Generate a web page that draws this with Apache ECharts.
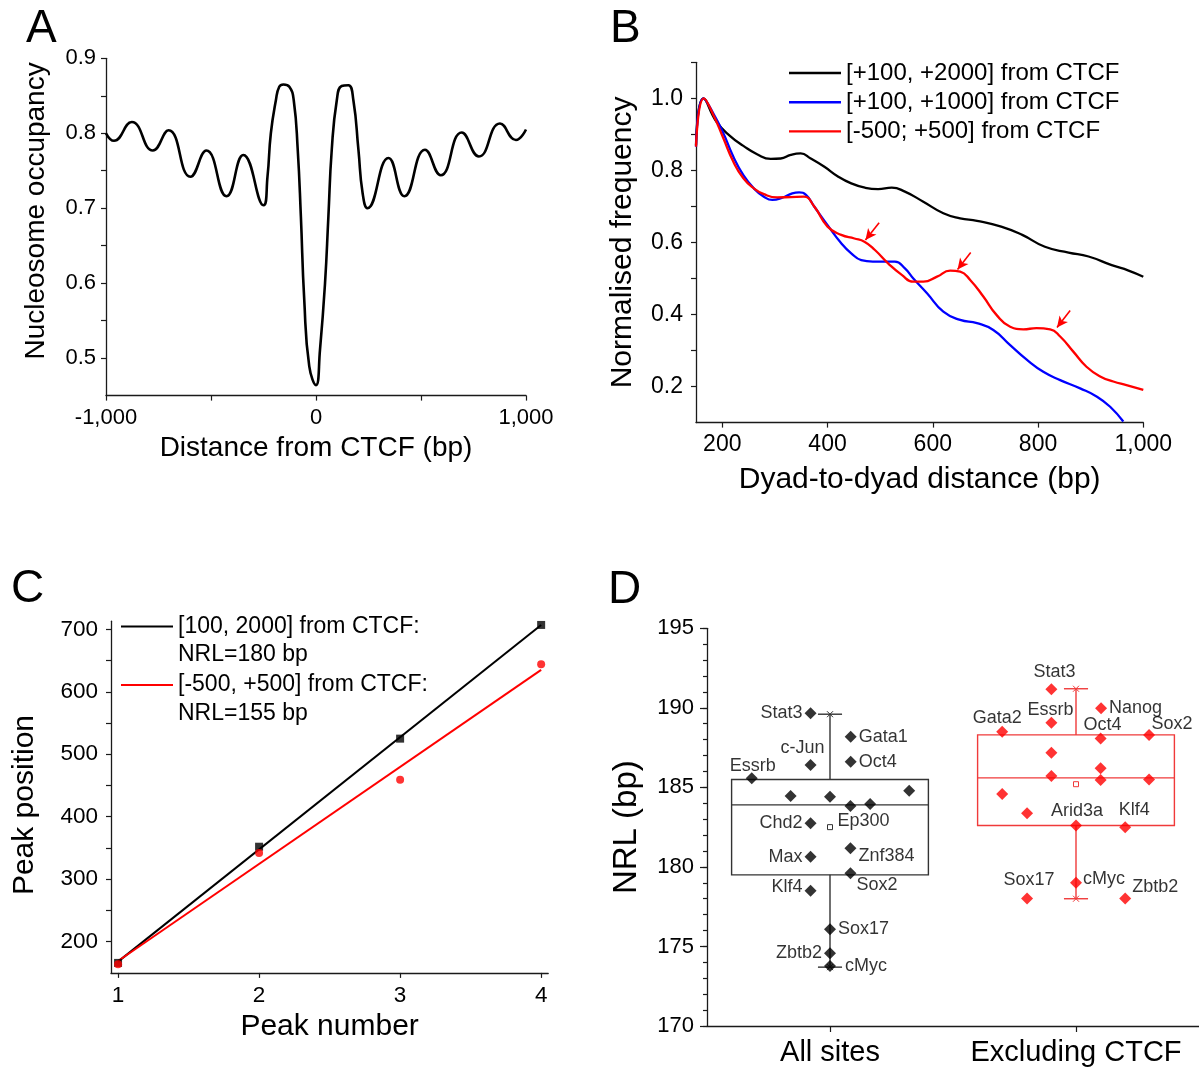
<!DOCTYPE html>
<html>
<head>
<meta charset="utf-8">
<title>Nucleosome repeat length around CTCF</title>
<script src="https://cdn.jsdelivr.net/npm/echarts@6.0.0/dist/echarts.min.js"></script>
<style>
  html, body { margin: 0; padding: 0; background: #fff; }
  #chart { width: 1199px; height: 1070px; }
</style>
</head>
<body>
<div id="chart"></div>
<script>
// ---- panel A: average nucleosome occupancy around CTCF sites
const occX = [-1000, -962, -877, -777, -702, -598, -522, -426, -346, -250, -231, -215, -191, -175, -155, -127, -106, -87, -72, -56, -32,
  0, 19, 43, 59, 75, 99, 122, 154, 178, 202, 222, 245, 345, 421, 519, 594, 694, 776, 876, 952, 1000];
const occY = [0.800, 0.790, 0.815, 0.777, 0.804, 0.742, 0.777, 0.716, 0.771, 0.704, 0.742, 0.800, 0.844, 0.862, 0.865, 0.862, 0.844, 0.778, 0.689, 0.578, 0.489,
  0.464, 0.511, 0.600, 0.689, 0.778, 0.844, 0.863, 0.864, 0.844, 0.778, 0.720, 0.700, 0.767, 0.716, 0.778, 0.744, 0.801, 0.769, 0.813, 0.791, 0.805];
const occTickX = [-1000, -500, 0, 500, 1000];
const occLabelX = [-1000, 0, 1000];
const occTickY = [0.5, 0.55, 0.6, 0.65, 0.7, 0.75, 0.8, 0.85, 0.9];
const occLabelY = [0.5, 0.6, 0.7, 0.8, 0.9];

// ---- panel B: dyad-to-dyad distance distributions
const freqNames = ['[+100, +2000] from CTCF', '[+100, +1000] from CTCF', '[-500; +500] from CTCF'];
const farX = [150, 164, 189, 215, 240, 266, 292, 311, 330, 349, 368, 394, 419, 445, 471, 496, 522, 547, 582, 620, 652, 684, 730, 770, 813, 858, 896, 940, 972, 1000];
const farY = [0.87, 1.0, 0.935, 0.895, 0.868, 0.845, 0.832, 0.833, 0.843, 0.847, 0.833, 0.810, 0.784, 0.764, 0.752, 0.748, 0.752, 0.741, 0.713, 0.681, 0.667, 0.660, 0.644, 0.621, 0.588, 0.572, 0.561, 0.537, 0.522, 0.505];
const midX = [150, 164, 183, 202, 221, 240, 260, 279, 295, 314, 333, 346, 359, 375, 400, 426, 445, 464, 486, 509, 528, 547, 563, 589, 620, 652, 684, 715, 747, 779, 810, 842, 880, 912, 937, 962];
const midY = [0.866, 1.0, 0.958, 0.903, 0.838, 0.787, 0.750, 0.727, 0.718, 0.724, 0.736, 0.739, 0.732, 0.699, 0.648, 0.598, 0.570, 0.551, 0.547, 0.547, 0.547, 0.528, 0.500, 0.459, 0.408, 0.385, 0.376, 0.357, 0.315, 0.274, 0.241, 0.218, 0.195, 0.172, 0.144, 0.103];
const nearX = [150, 165, 183, 202, 221, 240, 260, 279, 304, 330, 355, 375, 400, 426, 451, 470, 490, 515, 541, 563, 582, 608, 633, 652, 671, 696, 721, 747, 772, 797, 823, 842, 867, 892, 918, 943, 968, 1000];
const nearY = [0.866, 1.0, 0.954, 0.889, 0.824, 0.778, 0.750, 0.734, 0.725, 0.726, 0.727, 0.699, 0.644, 0.621, 0.611, 0.602, 0.579, 0.542, 0.510, 0.491, 0.491, 0.505, 0.522, 0.519, 0.496, 0.450, 0.399, 0.366, 0.359, 0.362, 0.359, 0.339, 0.297, 0.255, 0.228, 0.214, 0.204, 0.191];
// arrows pointing at the extra peaks of the red curve
const arrowTail = [[498, 0.655], [672, 0.572], [861, 0.411]];
const arrowHead = [[472, 0.607], [647, 0.525], [836, 0.364]];
const freqTickX = [200, 400, 600, 800, 1000];
const freqTickY = [0.2, 0.3, 0.4, 0.5, 0.6, 0.7, 0.8, 0.9, 1.0, 1.1];
const freqLabelY = [0.2, 0.4, 0.6, 0.8, 1.0];

// ---- panel C: peak positions vs peak number
const peakNum = [1, 2, 3, 4];
const peakFar = [166, 352, 525, 707];
const peakNear = [164, 342, 459, 644];
const fitFarEnds = [168, 707];
const fitNearEnds = [169, 635];
const fitNames = ['[100, 2000] from CTCF:', '[-500, +500] from CTCF:'];
const fitNotes = ['NRL=180 bp', 'NRL=155 bp'];
const peakTickY = [200, 250, 300, 350, 400, 450, 500, 550, 600, 650, 700];
const peakLabelY = [200, 300, 400, 500, 600, 700];

// ---- panel D: NRL per transcription factor
const groupNames = ['All sites', 'Excluding CTCF'];
const allX = [0.921, 1.084, 0.921, 1.084, 0.682, 0.840, 1.000, 1.083, 1.163, 1.322, 0.921, 0.921, 1.083, 1.083, 0.921, 1.000, 1.000, 1.000];
const allY = [189.66, 188.19, 186.41, 186.61, 185.57, 184.46, 184.41, 183.83, 183.95, 184.79, 182.74, 180.64, 181.17, 179.60, 178.50, 176.08, 174.57, 173.77];
const allNames = ['Stat3', 'Gata1', 'c-Jun', 'Oct4', 'Essrb', '', '', 'Ep300', '', '', 'Chd2', 'Max', 'Znf384', 'Sox2', 'Klf4', 'Sox17', 'Zbtb2', 'cMyc'];
const exclX = [1.900, 1.900, 2.102, 1.700, 2.100, 2.297, 1.900, 2.100, 1.900, 2.100, 2.297, 1.700, 1.801, 2.000, 2.200, 2.000, 1.801, 2.200];
const exclY = [191.17, 189.07, 189.97, 188.50, 188.08, 188.29, 187.18, 186.20, 185.71, 185.46, 185.50, 184.58, 183.37, 182.61, 182.49, 179.00, 178.02, 178.02];
const exclNames = ['Stat3', 'Essrb', 'Nanog', 'Gata2', 'Oct4', 'Sox2', '', '', '', '', '', '', '', 'Arid3a', 'Klf4', 'cMyc', 'Sox17', 'Zbtb2'];
const boxPos = [1, 2];
const boxMin = [173.7, 178.0];
const boxQ1 = [179.5, 182.6];
const boxMed = [183.9, 185.6];
const boxQ3 = [185.5, 188.3];
const boxMax = [189.6, 191.2];
const boxMean = [182.5, 185.2];
const nrlTickMajor = [170, 175, 180, 185, 190, 195];

// ---- label placement for panel D (style only): [position, dx, dy, distance]
const allLabelPos = {
  'Stat3': ['left', 0, 0, 2], 'Gata1': ['right', 0, 0, 2], 'c-Jun': ['top', -8, 0, 2], 'Oct4': ['right', 0, 0, 2],
  'Essrb': ['top', 1, 5, 2], 'Ep300': ['bottom', 13, -2, 2], 'Chd2': ['left', 0, 0, 2], 'Max': ['left', 0, 0, 2],
  'Znf384': ['right', 0, 8, 2], 'Sox2': ['right', -2, 12, 2], 'Klf4': ['left', 0, -4, 2], 'Sox17': ['right', 0, 0, 2],
  'Zbtb2': ['left', 0, 0, 2], 'cMyc': ['right', 0, 0, 9]
};
const exclLabelPos = {
  'Stat3': ['top', 3, 0, 2], 'Essrb': ['top', -1, 4, 2], 'Nanog': ['right', 0, 0, 2], 'Gata2': ['top', -5, 3, 2],
  'Oct4': ['top', 2, 4, 2], 'Sox2': ['top', 23, 6, 2], 'Arid3a': ['top', 1, 3, 2], 'Klf4': ['top', 9, 0, 2],
  'cMyc': ['right', 0, -4, 1], 'Sox17': ['top', 2, -1, 2], 'Zbtb2': ['right', 0, -11, 1]
};

const FONT = 'Liberation Sans, Arial, Helvetica, sans-serif';
const INK = '#1a1a1a';
const comma = v => Number(v).toLocaleString('en-US');
const pairs = (xs, ys) => xs.map((x, i) => [x, ys[i]]);

// common axis look, Origin-like: outward ticks, no grid lines
function axis(opts) {
  const o = Object.assign({
    type: 'value',
    axisLine: { show: true, onZero: false, lineStyle: { color: INK, width: 1.3 } },
    splitLine: { show: false },
    nameLocation: 'middle',
    nameTextStyle: { color: '#000', fontFamily: FONT, fontSize: 28 }
  }, opts);
  o.axisTick = Object.assign({ show: true, length: 5, lineStyle: { color: INK, width: 1.2 } }, opts.axisTick || {});
  o.axisLabel = Object.assign({ color: '#000', fontFamily: FONT, fontSize: 22 }, opts.axisLabel || {});
  return o;
}

function pointLabel(name, table) {
  const p = table[name];
  if (!name || !p) return { show: false };
  return {
    show: true, formatter: '{b}', position: p[0], offset: [p[1], p[2]], distance: p[3],
    color: '#000', fontFamily: FONT, fontSize: 18
  };
}

function renderBox(params, api) {
  const x = api.value(0);
  const color = params.dataIndex === 0 ? '#333333' : '#f03a3a';
  const half = 0.4, cap = 0.049;
  const q1L = api.coord([x - half, api.value(2)]);
  const q3R = api.coord([x + half, api.value(4)]);
  const medL = api.coord([x - half, api.value(3)]);
  const medR = api.coord([x + half, api.value(3)]);
  const top = api.coord([x, api.value(5)]);
  const bot = api.coord([x, api.value(1)]);
  const mean = api.coord([x, api.value(6)]);
  const capL = api.coord([x - cap, api.value(5)])[0];
  const capR = api.coord([x + cap, api.value(5)])[0];
  const st = { stroke: color, lineWidth: 1.4, fill: 'none' };
  const line = (x1, y1, x2, y2, w) => ({ type: 'line', shape: { x1, y1, x2, y2 }, style: Object.assign({}, st, w ? { lineWidth: w } : {}) });
  const cross = p => [line(p[0] - 3, p[1] - 3, p[0] + 3, p[1] + 3, 1), line(p[0] - 3, p[1] + 3, p[0] + 3, p[1] - 3, 1)];
  return {
    type: 'group',
    children: [
      { type: 'rect', shape: { x: q1L[0], y: q3R[1], width: q3R[0] - q1L[0], height: q1L[1] - q3R[1] }, style: st },
      line(medL[0], medL[1], medR[0], medR[1]),
      line(top[0], top[1], top[0], q3R[1]),
      line(bot[0], bot[1], bot[0], q1L[1]),
      line(capL, top[1], capR, top[1]),
      line(capL, bot[1], capR, bot[1]),
      ...cross(top), ...cross(bot),
      { type: 'rect', shape: { x: mean[0] - 2.5, y: mean[1] - 2.5, width: 5, height: 5 }, style: { stroke: color, lineWidth: 1, fill: '#fff' } }
    ]
  };
}

const chart = echarts.init(document.getElementById('chart'));
const option = {
  backgroundColor: '#fff',
  animation: false,
  textStyle: { fontFamily: FONT },
  title: [
    { text: 'A', left: 26, top: 6 },
    { text: 'B', left: 610, top: 6 },
    { text: 'C', left: 11, top: 566 },
    { text: 'D', left: 608, top: 567 }
  ].map(t => Object.assign(t, { padding: 0, textStyle: { fontFamily: FONT, fontSize: 46, fontWeight: 'normal', color: '#000' } })),
  legend: [
    {
      data: freqNames, orient: 'vertical', left: 789, top: 60.5, padding: 0,
      icon: 'rect', itemWidth: 52, itemHeight: 2.4, itemGap: 4.2, selectedMode: false,
      textStyle: { fontFamily: FONT, fontSize: 24, lineHeight: 25, color: '#000' }
    },
    {
      data: [fitNames[0]], left: 121, top: 584.5, padding: 0,
      icon: 'rect', itemWidth: 52, itemHeight: 2.2, selectedMode: false,
      // leading blank line keeps the first text line level with the icon
      formatter: n => '\n' + n + '\n' + fitNotes[0],
      textStyle: { fontFamily: FONT, fontSize: 23, lineHeight: 28, color: '#000' }
    },
    {
      data: [fitNames[1]], left: 121, top: 641.5, padding: 0,
      icon: 'rect', itemWidth: 52, itemHeight: 2.2, selectedMode: false,
      formatter: n => '\n' + n + '\n' + fitNotes[1],
      textStyle: { fontFamily: FONT, fontSize: 23, lineHeight: 29, color: '#000' }
    }
  ],
  grid: [
    { left: 106, top: 58.3, width: 420, height: 337.3 },
    { left: 696, top: 62.3, width: 447.3, height: 360.3 },
    { left: 111, top: 621.2, width: 437.2, height: 351.7 },
    { left: 707, top: 628.3, width: 492, height: 397.7 }
  ],
  xAxis: [
    axis({
      gridIndex: 0, min: -1000, max: 1000,
      axisTick: { customValues: occTickX },
      axisLabel: { customValues: occLabelX, formatter: comma, margin: 11 },
      name: 'Distance from CTCF (bp)', nameGap: 39
    }),
    axis({
      gridIndex: 1, min: 150, max: 1000,
      axisTick: { customValues: freqTickX },
      axisLabel: { customValues: freqTickX, formatter: comma, margin: 11, fontSize: 23 },
      name: 'Dyad-to-dyad distance (bp)', nameGap: 42, nameTextStyle: { color: '#000', fontFamily: FONT, fontSize: 30 }
    }),
    axis({
      gridIndex: 2, min: 0.95, max: 4.05,
      axisTick: { customValues: peakNum },
      axisLabel: { customValues: peakNum, margin: 11, fontSize: 22.5 },
      name: 'Peak number', nameGap: 39, nameTextStyle: { color: '#000', fontFamily: FONT, fontSize: 30 }
    }),
    axis({
      gridIndex: 3, min: 0.5, max: 2.5,
      axisTick: { customValues: boxPos, length: 6 },
      axisLabel: { customValues: boxPos, formatter: v => groupNames[Math.round(v) - 1], margin: 12, fontSize: 29 }
    })
  ],
  yAxis: [
    axis({
      gridIndex: 0, min: 0.45, max: 0.9,
      axisTick: { customValues: occTickY },
      axisLabel: { customValues: occLabelY, formatter: v => v.toFixed(1), margin: 10 },
      name: 'Nucleosome occupancy', nameGap: 56,
      nameTextStyle: { color: '#000', fontFamily: FONT, fontSize: 28, padding: [0, 0, 0, 32] }
    }),
    axis({
      gridIndex: 1, min: 0.1, max: 1.1,
      axisTick: { customValues: freqTickY },
      axisLabel: { customValues: freqLabelY, formatter: v => v.toFixed(1), margin: 13, fontSize: 23 },
      name: 'Normalised frequency', nameGap: 58, nameTextStyle: { color: '#000', fontFamily: FONT, fontSize: 30 }
    }),
    axis({
      gridIndex: 2, min: 150, max: 713,
      axisTick: { customValues: peakTickY },
      axisLabel: { customValues: peakLabelY, margin: 13, fontSize: 22.5 },
      name: 'Peak position', nameGap: 71,
      nameTextStyle: { color: '#000', fontFamily: FONT, fontSize: 30, padding: [0, 16, 0, 0] }
    }),
    axis({
      gridIndex: 3, min: 170, max: 195,
      axisTick: { customValues: nrlTickMajor, length: 7 },
      axisLabel: { customValues: nrlTickMajor, margin: 13 },
      name: 'NRL (bp)', nameGap: 64, nameTextStyle: { color: '#000', fontFamily: FONT, fontSize: 33 }
    }),
    // minor ticks of panel D, one per bp
    axis({
      gridIndex: 3, min: 170, max: 195, interval: 1, position: 'left',
      axisLine: { show: false, onZero: false },
      axisTick: { length: 4 },
      axisLabel: { show: false }
    })
  ],
  series: [
    {
      type: 'line', name: 'occupancy', xAxisIndex: 0, yAxisIndex: 0,
      data: pairs(occX, occY), showSymbol: false, symbol: 'none',
      smooth: 0.5,
      lineStyle: { color: '#000', width: 2.6 }
    },
    ...[[farX, farY, '#000000'], [midX, midY, '#0000ff'], [nearX, nearY, '#ff0000']].map((c, i) => ({
      type: 'line', name: freqNames[i], xAxisIndex: 1, yAxisIndex: 1,
      data: pairs(c[0], c[1]), symbol: 'none', showSymbol: false,
      smooth: 0.5, z: 3 + (i === 1 ? 0 : i),
      color: c[2], lineStyle: { color: c[2], width: 2.3 },
      markLine: i === 2 ? {
        silent: true, symbol: ['none', 'arrow'], symbolSize: [8, 11],
        label: { show: false },
        lineStyle: { color: '#ff0000', width: 1.6, type: 'solid' },
        data: arrowTail.map((t, k) => [{ coord: t }, { coord: arrowHead[k] }])
      } : undefined
    })),
    {
      type: 'line', name: fitNames[0], xAxisIndex: 2, yAxisIndex: 2,
      data: [[peakNum[0], fitFarEnds[0]], [peakNum[3], fitFarEnds[1]]],
      symbol: 'none', color: '#000', lineStyle: { color: '#000', width: 2 }
    },
    {
      type: 'line', name: fitNames[1], xAxisIndex: 2, yAxisIndex: 2,
      data: [[peakNum[0], fitNearEnds[0]], [peakNum[3], fitNearEnds[1]]],
      symbol: 'none', color: '#ff0000', lineStyle: { color: '#ff0000', width: 2 }
    },
    {
      type: 'scatter', name: 'peaks far', xAxisIndex: 2, yAxisIndex: 2,
      data: pairs(peakNum, peakFar), symbol: 'rect', symbolSize: 8, itemStyle: { color: '#000' }, z: 4
    },
    {
      type: 'scatter', name: 'peaks near', xAxisIndex: 2, yAxisIndex: 2,
      data: pairs(peakNum, peakNear), symbol: 'circle', symbolSize: 8, itemStyle: { color: '#ff0000' }, z: 4
    },
    {
      type: 'custom', name: 'NRL boxes', xAxisIndex: 3, yAxisIndex: 3,
      renderItem: renderBox, z: 2,
      encode: { x: 0, y: [1, 2, 3, 4, 5, 6] },
      data: boxPos.map((p, i) => [p, boxMin[i], boxQ1[i], boxMed[i], boxQ3[i], boxMax[i], boxMean[i]])
    },
    {
      type: 'scatter', name: 'All sites', xAxisIndex: 3, yAxisIndex: 3,
      symbol: 'diamond', symbolSize: 12, itemStyle: { color: '#000' }, z: 5,
      data: allY.map((v, i) => ({ value: [allX[i], v], name: allNames[i], label: pointLabel(allNames[i], allLabelPos) }))
    },
    {
      type: 'scatter', name: 'Excluding CTCF', xAxisIndex: 3, yAxisIndex: 3,
      symbol: 'diamond', symbolSize: 12, itemStyle: { color: '#ff0000' }, z: 5,
      data: exclY.map((v, i) => ({ value: [exclX[i], v], name: exclNames[i], label: pointLabel(exclNames[i], exclLabelPos) }))
    }
  ]
};
chart.setOption(option);
</script>
</body>
</html>
